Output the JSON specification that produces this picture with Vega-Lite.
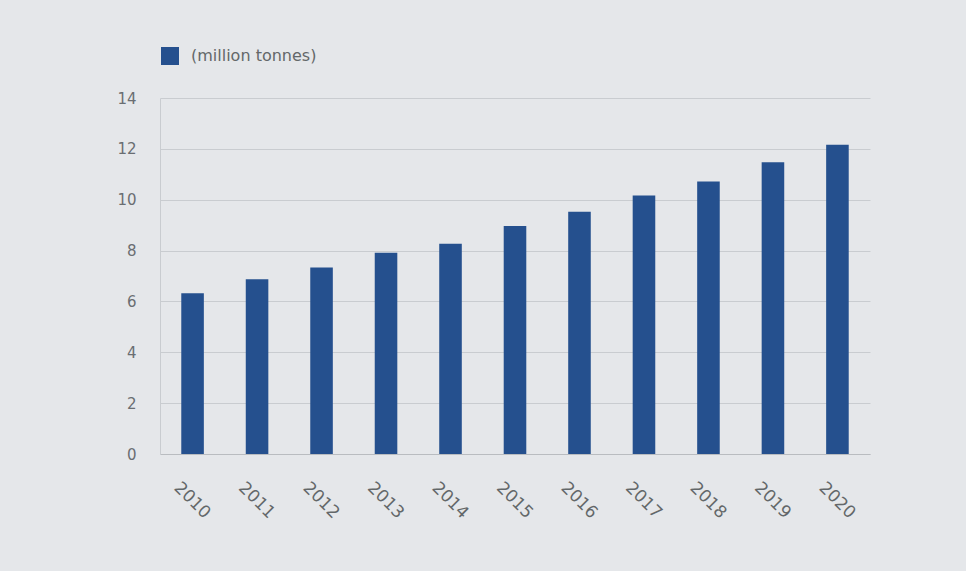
{
  "$schema": "https://vega.github.io/schema/vega-lite/v6.json",
  "width": 710,
  "height": 356,
  "autosize": {"type": "none"},
  "padding": {"left": 160, "top": 98, "right": 96, "bottom": 117},
  "background": "#e5e7ea",
  "config": {
    "view": {"stroke": null},
    "font": "DejaVu Sans",
    "axis": {"labelFont": "DejaVu Sans", "labelColor": "#6a6e72", "labelFontSize": 15}
  },
  "data": {
    "values": [
      {"year": "2010", "value": 6.32},
      {"year": "2011", "value": 6.87},
      {"year": "2012", "value": 7.33},
      {"year": "2013", "value": 7.91},
      {"year": "2014", "value": 8.27},
      {"year": "2015", "value": 8.97},
      {"year": "2016", "value": 9.53},
      {"year": "2017", "value": 10.17},
      {"year": "2018", "value": 10.72},
      {"year": "2019", "value": 11.47},
      {"year": "2020", "value": 12.16}
    ]
  },
  "mark": {"type": "bar"},
  "encoding": {
    "x": {
      "field": "year",
      "type": "ordinal",
      "scale": {"paddingInner": 0.65, "paddingOuter": 0.33},
      "axis": {
        "title": null,
        "labelAngle": 45,
        "labelAlign": "left",
        "labelBaseline": "top",
        "labelPadding": 25,
        "labelOffset": -10,
        "labelFontSize": 17,
        "ticks": false,
        "domainColor": "#b9bcc0",
        "labelColor": "#636769"
      }
    },
    "y": {
      "field": "value",
      "type": "quantitative",
      "scale": {"domain": [0, 14]},
      "axis": {
        "title": null,
        "values": [0, 2, 4, 6, 8, 10, 12, 14],
        "ticks": false,
        "labelPadding": 24,
        "domain": true,
        "domainColor": "#c9ccd0",
        "gridColor": "#c9ccd0",
        "gridWidth": 1
      }
    },
    "color": {
      "datum": "(million tonnes)",
      "type": "nominal",
      "scale": {"range": ["#25508e"]},
      "legend": {
        "title": null,
        "orient": "none",
        "legendX": 1,
        "legendY": -51,
        "symbolType": "square",
        "symbolSize": 324,
        "symbolStrokeWidth": 0,
        "labelFontSize": 16,
        "labelColor": "#636769",
        "labelFont": "DejaVu Sans",
        "labelOffset": 12
      }
    }
  }
}
